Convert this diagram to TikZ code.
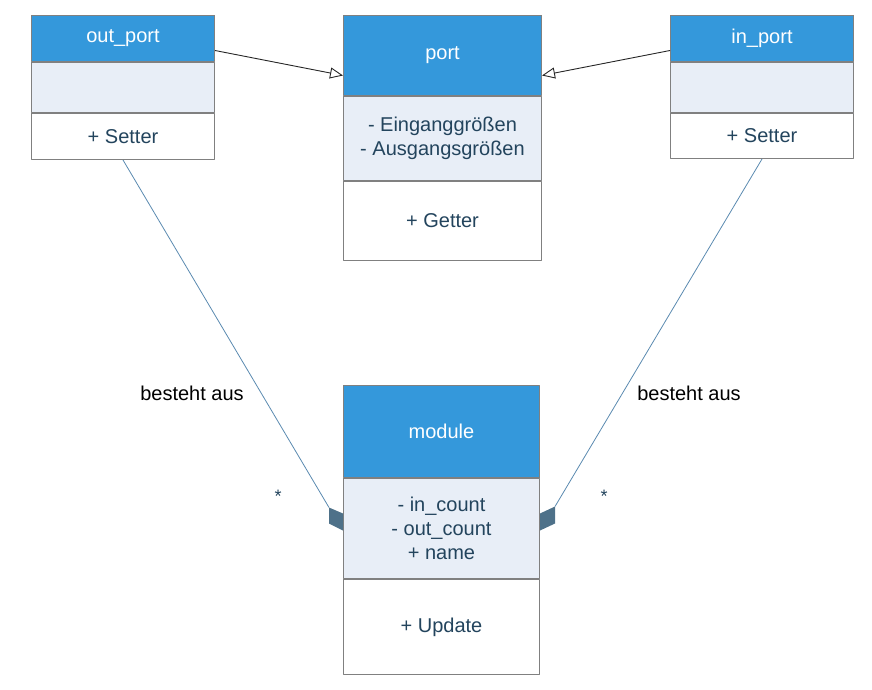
\documentclass[tikz,border=0pt]{standalone}
\usepackage{fontspec}
\setmainfont{Liberation Sans}
\usetikzlibrary{arrows.meta}
\definecolor{headblue}{HTML}{3498DB}
\definecolor{attrgray}{HTML}{E8EEF7}
\definecolor{boxline}{HTML}{808080}
\definecolor{classtext}{HTML}{23445D}
\definecolor{aggline}{HTML}{5A8AB0}
\definecolor{aggfill}{HTML}{4E7189}
\tikzset{
  part/.style={draw=boxline, line width=1pt, inner sep=0pt, anchor=north west, align=center, font=\fontsize{20}{24}\selectfont},
  head/.style={part, fill=headblue, text=white},
  attr/.style={part, fill=attrgray, text=classtext},
  op/.style={part, fill=white, text=classtext},
  inherit/.style={-{Triangle[open,length=13pt,width=11pt]}, line width=0.9pt, draw=black!85},
  agg/.style={line width=0.8pt, draw=aggline},
}
\begin{document}
\begin{tikzpicture}[x=1pt, y=-1pt, line join=round]
            \useasboundingbox (0,0) rectangle (872,690);
            % port classes
            \node[head, minimum width=183pt, minimum height=46pt] (outhead) at (31,15) {out\_port};
            \node[attr, minimum width=183pt, minimum height=50pt] (outattr) at (outhead.south west) {};
            \node[op, minimum width=183pt, minimum height=46pt] (outop) at (outattr.south west) {+ Setter};
            \node[head, minimum width=198pt, minimum height=80pt] (porthead) at (343,15) {port};
            \node[attr, minimum width=198pt, minimum height=84pt] (portattr) at (porthead.south west) {- Einganggrößen\\- Ausgangsgrößen};
            \node[op, minimum width=198pt, minimum height=79pt] (portop) at (portattr.south west) {+ Getter};
            \node[head, minimum width=183pt, minimum height=46pt] (inhead) at (670,15) {in\_port};
            \node[attr, minimum width=183pt, minimum height=50pt] (inattr) at (inhead.south west) {};
            \node[op, minimum width=183pt, minimum height=45pt] (inop) at (inattr.south west) {+ Setter};
            % module class
            \node[head, minimum width=196pt, minimum height=92pt] (modhead) at (343,385) {module};
            \node[attr, minimum width=196pt, minimum height=100pt] (modattr) at (modhead.south west) {- in\_count\\- out\_count\\+ name};
            \node[op, minimum width=196pt, minimum height=95pt] (modop) at (modattr.south west) {+ Update};
            % generalisation
            \draw[inherit]([yshift=-12pt]outhead.east)--([yshift=-20pt]porthead.west);
            \draw[inherit]([yshift=-12pt]inhead.west)--([yshift=-20pt]porthead.east);
            % aggregation
            \coordinate (lefttip) at ([shift={(-14,-21)}]modattr.west);
            \coordinate (righttip) at ([shift={(15,-22)}]modattr.east);
            \draw[agg](outop.south)--(lefttip);
            \draw[agg](inop.south)--(righttip);
            \fill[aggfill](lefttip)--++(14,6)--++(0,17)--++(-14,-7)--cycle;
            \fill[aggfill](righttip)--++(-15,7)--++(0,17)--++(15,-7)--cycle;
            \node[font=\fontsize{20}{24}\selectfont] (leftrole) at (192,393) {besteht aus};
            \node[font=\fontsize{20}{24}\selectfont] (rightrole) at (689,393) {besteht aus};
            \node[font=\fontsize{18}{20}\selectfont, text=classtext] (leftmult) at (278,496) {*};
            \node[font=\fontsize{18}{20}\selectfont, text=classtext] (rightmult) at (604,496) {*};
        \end{tikzpicture}
\end{document}
